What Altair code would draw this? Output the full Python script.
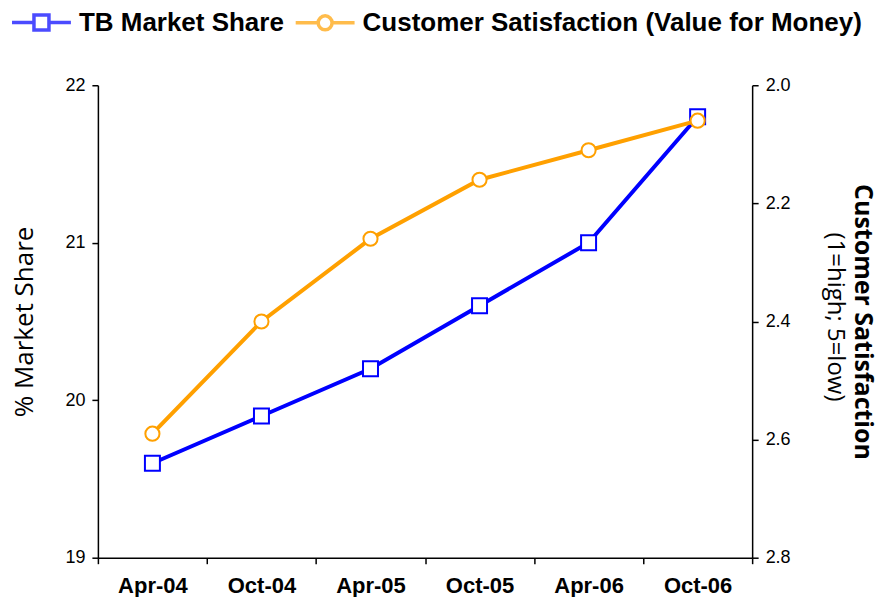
import altair as alt
import pandas as pd

periods = ["Apr-04", "Oct-04", "Apr-05", "Oct-05", "Apr-06", "Oct-06"]
market_share = [19.6, 19.9, 20.2, 20.6, 21.0, 21.8]
satisfaction = [2.59, 2.40, 2.26, 2.16, 2.11, 2.06]
series_names = ["TB Market Share", "Customer Satisfaction (Value for Money)"]
series_colors = ["#0000FF", "#FFA000"]
left_ticks = [19, 20, 21, 22]
right_ticks = [2.0, 2.2, 2.4, 2.6, 2.8]
subtitle = ["(1=high; 5=low)"]

df = pd.DataFrame({
    "period": periods * 2,
    "series": [series_names[0]] * len(periods) + [series_names[1]] * len(periods),
    "value": market_share + satisfaction,
})

W, H = 655, 473

# legend symbols: line with marker
sq_path = "M-3.93,0H-1M-1,-1H1V1H-1ZM1,0H3.93"
k = 0.5137
r = 0.93
circ_path = (f"M-3.93,0H-{r}M{r},0C{r},{k},{k},{r},0,{r}C-{k},{r},-{r},{k},-{r},0"
             f"C-{r},-{k},-{k},-{r},0,-{r}C{k},-{r},{r},-{k},{r},0ZM{r},0H3.93")

x_enc = alt.X("period:N", sort=periods,
              scale=alt.Scale(type="band", paddingInner=0, paddingOuter=0),
              axis=alt.Axis(title=None, tickBand="extent", labelAngle=0,
                            labelFont="Liberation Sans", labelFontWeight="bold",
                            labelFontSize=22, labelPadding=12, labelColor="black",
                            domainColor="black", tickColor="black", domainWidth=1.5,
                            tickWidth=1.5, tickSize=6, grid=False))

base = alt.Chart(df)

left_y = alt.Y("value:Q",
               scale=alt.Scale(domain=[19, 22], zero=False, nice=False),
               axis=alt.Axis(orient="left", values=left_ticks, title="% Market Share",
                             titleFont="Open Sans", titleFontSize=26, titleFontWeight="normal",
                             titleColor="black", titlePadding=27,
                             labelFont="Liberation Sans", labelFontSize=18, labelColor="black",
                             labelPadding=7, domainColor="black", tickColor="black",
                             domainWidth=1.5, tickWidth=1.5, tickSize=6, grid=False))

right_y = alt.Y("value:Q",
                scale=alt.Scale(domain=[2.0, 2.8], zero=False, nice=False, reverse=True),
                axis=alt.Axis(orient="right", values=right_ticks, format=".1f",
                              title="Customer Satisfaction", titleAngle=90,
                              titleFont="Open Sans", titleFontSize=25, titleFontWeight="bold",
                              titleColor="black", titlePadding=59,
                              labelFont="Liberation Sans", labelFontSize=18, labelColor="black",
                              labelPadding=7, domainColor="black", tickColor="black",
                              domainWidth=1.5, tickWidth=1.5, tickSize=6, grid=False))

blue_f = alt.datum.series == series_names[0]
orange_f = alt.datum.series == series_names[1]

left_layer = alt.layer(
    base.transform_filter(blue_f).mark_line(color=series_colors[0], strokeWidth=4),
    base.transform_filter(blue_f).mark_point(shape="square", size=225, fill="white",
                                             stroke=series_colors[0], strokeWidth=2, opacity=1),
).encode(x=x_enc, y=left_y)

right_layer = alt.layer(
    base.transform_filter(orange_f).mark_line(color=series_colors[1], strokeWidth=4),
    base.transform_filter(orange_f).mark_point(shape="circle", size=200, fill="white",
                                               stroke=series_colors[1], strokeWidth=2, opacity=1),
).encode(x=x_enc, y=right_y)

legend_layer = base.mark_point(size=0, fill="white", strokeWidth=3).encode(
    stroke=alt.Stroke("series:N",
                      scale=alt.Scale(domain=series_names, range=series_colors),
                      legend=alt.Legend(title=None, orient="none", direction="horizontal",
                                        legendX=-69.5, legendY=-76, padding=0,
                                        symbolSize=225, symbolStrokeWidth=3.5,
                                        labelFont="Liberation Sans", labelFontWeight="bold",
                                        labelFontSize=26, labelColor="black", labelLimit=1000,
                                        labelOffset=24.5, columnPadding=4, symbolOpacity=1)),
    shape=alt.Shape("series:N",
                    scale=alt.Scale(domain=series_names, range=[sq_path, circ_path]),
                    legend=alt.Legend(title=None)),
)

sub_layer = alt.Chart(pd.DataFrame({"label": subtitle})).mark_text(
    angle=90, font="Open Sans", fontSize=24, color="black", align="center", baseline="middle"
).encode(x=alt.value(738), y=alt.value(232), text="label:N")

chart = alt.layer(left_layer, right_layer, legend_layer, sub_layer).resolve_scale(
    y="independent"
).properties(
    width=W, height=H,
    padding={"left": 3, "top": 1, "right": 0, "bottom": 0},
).configure_view(stroke=None)

chart.save("out.html", embed_options={"renderer": "svg", "actions": False})
